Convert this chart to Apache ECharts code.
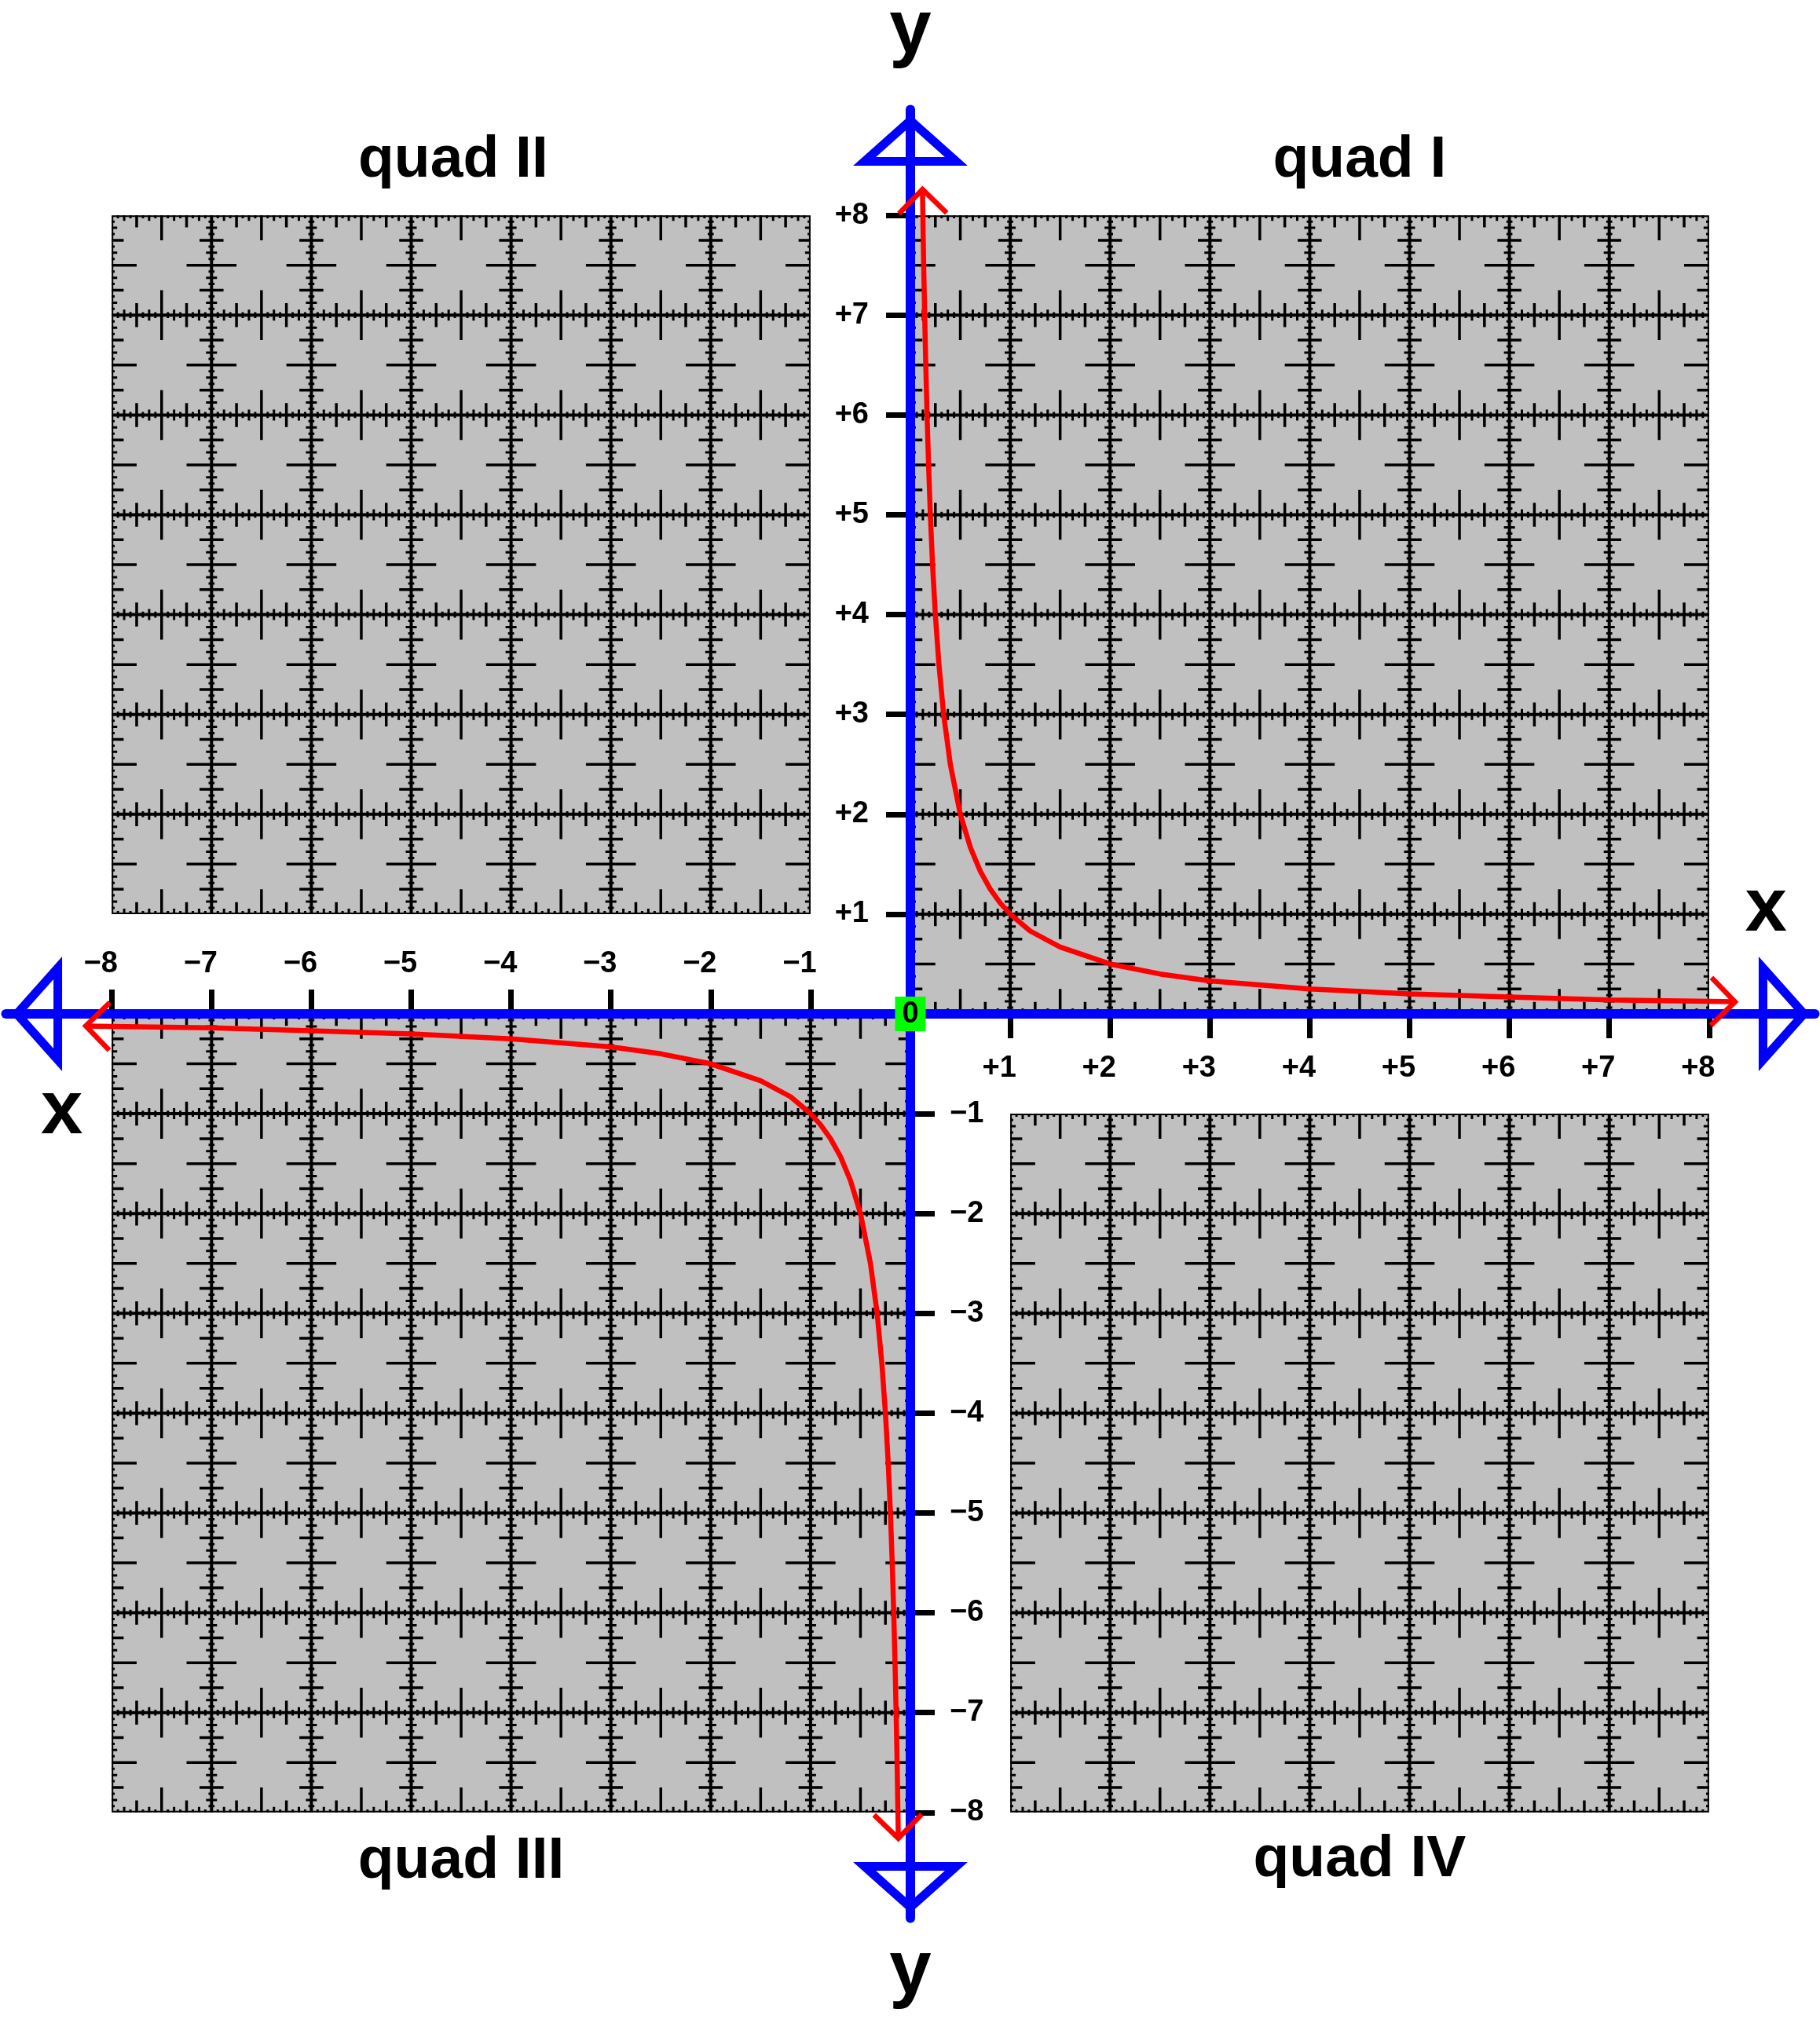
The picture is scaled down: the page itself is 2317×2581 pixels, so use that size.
<!DOCTYPE html>
<html>
<head>
<meta charset="utf-8">
<title>y = 1/x on the four quadrants</title>
<script src="https://cdn.jsdelivr.net/npm/echarts@6/dist/echarts.min.js"></script>
<style>
  html, body { margin: 0; padding: 0; background: #fff; }
  #chart { width: 2317px; height: 2581px; }
</style>
</head>
<body>
<div id="chart"></div>
<script>
// tick values on the axes
const posTicks = [1, 2, 3, 4, 5, 6, 7, 8];
const negTicks = [-1, -2, -3, -4, -5, -6, -7, -8];

// red curve, branch in quad I
const quad1X = [0.121, 0.125, 0.133, 0.143, 0.154, 0.167, 0.182, 0.2, 0.222, 0.25, 0.286, 0.333, 0.4, 0.5, 0.6, 0.7, 0.8, 0.9, 1, 1.2, 1.5, 2, 2.5, 3, 4, 5, 6, 7, 8, 8.26];
const quad1Y = [8.26, 8, 7.5, 7, 6.5, 6, 5.5, 5, 4.5, 4, 3.5, 3, 2.5, 2, 1.67, 1.43, 1.25, 1.11, 1, 0.83, 0.67, 0.5, 0.4, 0.33, 0.25, 0.2, 0.17, 0.14, 0.125, 0.121];
// branch in quad III
const quad3X = [-8.26, -8, -7, -6, -5, -4, -3, -2.5, -2, -1.5, -1.2, -1, -0.9, -0.8, -0.7, -0.6, -0.5, -0.4, -0.333, -0.286, -0.25, -0.222, -0.2, -0.182, -0.167, -0.154, -0.143, -0.133, -0.125, -0.121];
const quad3Y = [-0.121, -0.125, -0.14, -0.17, -0.2, -0.25, -0.33, -0.4, -0.5, -0.67, -0.83, -1, -1.11, -1.25, -1.43, -1.67, -2, -2.5, -3, -3.5, -4, -4.5, -5, -5.5, -6, -6.5, -7, -7.5, -8, -8.26];

// shaded boxes [xMin, xMax, yMin, yMax]
const quadBoxes = [[0, 8, 0, 8], [-8, -1, 1, 8], [-8, 0, -8, 0], [1, 8, -8, -1]];

const quadNames = ['quad I', 'quad II', 'quad III', 'quad IV'];
const axisNames = ['y', 'y', 'x', 'x'];

// layout
const UNIT = 127.1, OX = 1159, OY = 1291, EXT = 9.06;
const FONT = '"Liberation Sans", Arial, sans-serif';
const quadNamePos = [[4.5, 8.55], [-4.58, 8.55], [-4.5, -8.49], [4.5, -8.48]];
const axisNamePos = [[0, 9.84], [0, -9.6], [8.57, 1.04], [-8.5, -0.99]];
const arrowDirs = [[0, 1], [0, -1], [1, 0], [-1, 0]];

const branches = [{ x: quad1X, y: quad1Y }, { x: quad3X, y: quad3Y }];

function gridPattern(params, api) {
  const b = quadBoxes[params.dataIndex];
  const tl = api.coord([b[0], b[3]]);
  const br = api.coord([b[1], b[2]]);
  const u = api.size([1, 1])[0];
  const x0 = tl[0], y0 = tl[1], x1 = br[0], y1 = br[1];
  const cx = v => Math.min(Math.max(v, x0), x1);
  const cy = v => Math.min(Math.max(v, y0), y1);
  const half = j => (j % 8 === 0 ? 0.25 : j % 4 === 0 ? 0.12 : j % 2 === 0 ? 0.055 : 0.03) * u;
  let lines = '', edges = '', big = '', small = '';
  for (let k = b[0]; k <= b[1]; k++) {
    const x = api.coord([k, 0])[0];
    if (k === b[0]) edges += `M${x + 1} ${y0}L${x + 1} ${y1}`;
    else if (k === b[1]) edges += `M${x - 1} ${y0}L${x - 1} ${y1}`;
    else lines += `M${x} ${y0}L${x} ${y1}`;
    for (let j = b[2] * 16 + 1; j < b[3] * 16; j++) {
      if (j % 16 === 0) continue;
      const y = api.coord([0, j / 16])[1];
      const h = half(j);
      const seg = `M${cx(x - h)} ${y}L${cx(x + h)} ${y}`;
      if (j % 4 === 0) big += seg; else small += seg;
    }
  }
  for (let k = b[2]; k <= b[3]; k++) {
    const y = api.coord([0, k])[1];
    if (k === b[3]) edges += `M${x0} ${y + 1}L${x1} ${y + 1}`;
    else if (k === b[2]) edges += `M${x0} ${y - 1}L${x1} ${y - 1}`;
    else lines += `M${x0} ${y}L${x1} ${y}`;
    for (let j = b[0] * 16 + 1; j < b[1] * 16; j++) {
      if (j % 16 === 0) continue;
      const x = api.coord([j / 16, 0])[0];
      const h = half(j);
      const seg = `M${x} ${cy(y - h)}L${x} ${cy(y + h)}`;
      if (j % 4 === 0) big += seg; else small += seg;
    }
  }
  return {
    type: 'group',
    children: [
      { type: 'rect', shape: { x: x0, y: y0, width: x1 - x0, height: y1 - y0 }, style: { fill: '#c0c0c0' } },
      { type: 'path', shape: { pathData: edges }, style: { stroke: '#000', lineWidth: 2, fill: null } },
      { type: 'path', shape: { pathData: lines }, style: { stroke: '#000', lineWidth: 4, fill: null } },
      { type: 'path', shape: { pathData: big }, style: { stroke: '#000', lineWidth: 3.5, fill: null } },
      { type: 'path', shape: { pathData: small }, style: { stroke: '#000', lineWidth: 3, fill: null } }
    ]
  };
}

function blueArrow(params, api) {
  const d = arrowDirs[params.dataIndex];
  const apex = api.coord([d[0] * 8.95, d[1] * 8.95]);
  const p = [-d[1], d[0]];
  const c1 = api.coord([d[0] * 8.54 + p[0] * 0.46, d[1] * 8.54 + p[1] * 0.46]);
  const c2 = api.coord([d[0] * 8.54 - p[0] * 0.46, d[1] * 8.54 - p[1] * 0.46]);
  return {
    type: 'polygon',
    shape: { points: [apex, c1, c2] },
    style: { stroke: '#0000ff', lineWidth: 11, fill: null, lineJoin: 'miter' }
  };
}

function redArrow(params, api) {
  const br = branches[params.dataIndex >> 1];
  const atEnd = params.dataIndex % 2 === 1;
  const n = br.x.length;
  const i0 = atEnd ? n - 1 : 0, i1 = atEnd ? n - 2 : 1;
  const tip = api.coord([br.x[i0], br.y[i0]]);
  const prev = api.coord([br.x[i1], br.y[i1]]);
  const dx = tip[0] - prev[0], dy = tip[1] - prev[1];
  const len = Math.hypot(dx, dy);
  const bx = -dx / len, by = -dy / len;
  const L = 43, c = Math.SQRT1_2;
  const a1 = [tip[0] + L * c * (bx - by), tip[1] + L * c * (bx + by)];
  const a2 = [tip[0] + L * c * (bx + by), tip[1] + L * c * (by - bx)];
  return {
    type: 'polyline',
    shape: { points: [a1, tip, a2] },
    style: { stroke: '#ff0000', lineWidth: 6.5, fill: null, lineJoin: 'miter' }
  };
}

function nameText(params, api) {
  const i = params.dataIndex;
  const isQuad = i < 4;
  const pos = isQuad ? quadNamePos[i] : axisNamePos[i - 4];
  const pt = api.coord(pos);
  return {
    type: 'text',
    x: pt[0], y: pt[1],
    style: {
      text: isQuad ? quadNames[i] : axisNames[i - 4],
      fill: '#000',
      fontSize: isQuad ? 75 : 96,
      fontWeight: 'bold',
      fontFamily: FONT,
      align: 'center',
      verticalAlign: 'middle'
    }
  };
}

function originBox(params, api) {
  const o = api.coord([0, 0]);
  return {
    type: 'group',
    children: [
      { type: 'rect', shape: { x: o[0] - 19.5, y: o[1] - 22, width: 39, height: 44 }, style: { fill: '#00ff00' } },
      { type: 'text', x: o[0], y: o[1] + 1, style: { text: '0', fill: '#000', fontSize: 38, fontWeight: 'bold', fontFamily: FONT, align: 'center', verticalAlign: 'middle' } }
    ]
  };
}

const labelStyle = { color: '#000', fontSize: 38, fontWeight: 'bold', fontFamily: FONT };
const tickStyle = { length: 31, lineStyle: { color: '#000', width: 7 } };
const plus = v => '+' + v;
const minus = v => '\u2212' + Math.abs(v);

const L0 = OX - EXT * UNIT, T0 = OY - EXT * UNIT, FULL = 2 * EXT * UNIT, HALF = EXT * UNIT;

function hiddenAxis(gridIndex) {
  return { type: 'value', gridIndex, min: -EXT, max: EXT, show: false };
}
function tickAxis(gridIndex, position, ticks, fmt, margin, padding) {
  return {
    type: 'value', gridIndex, position, min: -EXT, max: EXT, z: 2,
    splitLine: { show: false },
    axisLine: { show: false, onZero: false },
    axisTick: Object.assign({ show: true, customValues: ticks }, tickStyle),
    axisLabel: Object.assign({ show: true, customValues: ticks, formatter: fmt, margin, padding }, labelStyle)
  };
}
const blueLine = { show: true, onZero: true, onZeroAxisIndex: 0, lineStyle: { color: '#0000ff', width: 12 } };

const option = {
  animation: false,
  backgroundColor: '#fff',
  grid: [
    // main plotting area
    { left: L0, top: T0, width: FULL, height: FULL, containLabel: false, outerBoundsMode: 'none' },
    // upper half: its bottom edge is the x axis (positive x labels)
    { left: L0, top: T0, width: FULL, height: HALF, containLabel: false, outerBoundsMode: 'none' },
    // lower half: its top edge is the x axis (negative x labels)
    { left: L0, top: OY, width: FULL, height: HALF, containLabel: false, outerBoundsMode: 'none' },
    // left half: its right edge is the y axis (negative y labels)
    { left: L0, top: T0, width: HALF, height: FULL, containLabel: false, outerBoundsMode: 'none' },
    // right half: its left edge is the y axis (positive y labels)
    { left: OX, top: T0, width: HALF, height: FULL, containLabel: false, outerBoundsMode: 'none' }
  ],
  xAxis: [
    { type: 'value', gridIndex: 0, min: -EXT, max: EXT, z: 4,
      splitLine: { show: false }, axisTick: { show: false }, axisLabel: { show: false }, axisLine: blueLine },
    tickAxis(1, 'bottom', posTicks, plus, 51, [0, 28, 0, 0]),
    tickAxis(2, 'top', negTicks, minus, 44, [0, 28, 0, 0]),
    hiddenAxis(3),
    hiddenAxis(4)
  ],
  yAxis: [
    { type: 'value', gridIndex: 0, min: -EXT, max: EXT, z: 4,
      splitLine: { show: false }, axisTick: { show: false }, axisLabel: { show: false }, axisLine: blueLine },
    hiddenAxis(1),
    hiddenAxis(2),
    tickAxis(3, 'right', negTicks, minus, 50, 0),
    tickAxis(4, 'left', posTicks, plus, 53, 0)
  ],
  series: [
    { type: 'custom', name: 'quadrants', z: 1, silent: true,
      data: quadBoxes, renderItem: gridPattern },
    { type: 'custom', name: 'axis arrows', z: 4, silent: true,
      data: arrowDirs, renderItem: blueArrow },
    { type: 'line', name: 'quad I branch', z: 6, clip: false, symbol: 'none', silent: true,
      lineStyle: { color: '#ff0000', width: 6.5 },
      data: quad1X.map((x, i) => [x, quad1Y[i]]) },
    { type: 'line', name: 'quad III branch', z: 6, clip: false, symbol: 'none', silent: true,
      lineStyle: { color: '#ff0000', width: 6.5 },
      data: quad3X.map((x, i) => [x, quad3Y[i]]) },
    { type: 'custom', name: 'curve arrows', z: 6, silent: true,
      data: [[quad1X[0], quad1Y[0]], [quad1X[quad1X.length - 1], quad1Y[quad1Y.length - 1]],
             [quad3X[0], quad3Y[0]], [quad3X[quad3X.length - 1], quad3Y[quad3Y.length - 1]]],
      renderItem: redArrow },
    { type: 'custom', name: 'origin', z: 8, silent: true,
      data: [[0, 0]], renderItem: originBox },
    { type: 'custom', name: 'names', z: 8, silent: true,
      data: quadNamePos.concat(axisNamePos), renderItem: nameText }
  ]
};

const chart = echarts.init(document.getElementById('chart'));
chart.setOption(option);
</script>
</body>
</html>
